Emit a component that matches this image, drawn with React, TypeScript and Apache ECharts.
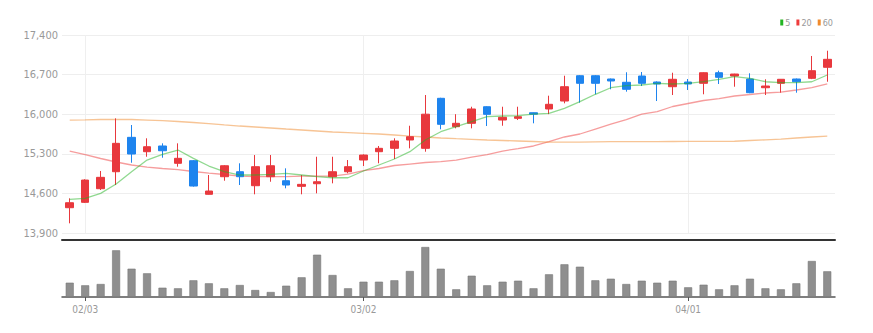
import React, { useEffect, useRef } from "react";
import * as echarts from "echarts";

const dates = [
  "01/28", "02/03", "02/04", "02/07", "02/08", "02/09", "02/10", "02/11", "02/14", "02/15",
  "02/16", "02/17", "02/18", "02/21", "02/22", "02/23", "02/24", "02/25", "02/28", "03/02",
  "03/03", "03/04", "03/07", "03/08", "03/10", "03/11", "03/14", "03/15", "03/16", "03/17",
  "03/18", "03/21", "03/22", "03/23", "03/24", "03/25", "03/28", "03/29", "03/30", "03/31",
  "04/01", "04/04", "04/05", "04/06", "04/07", "04/08", "04/11", "04/12", "04/13", "04/14",
];

const labelDates = ["02/03", "03/02", "04/01"];

// [open, close, low, high]
const ohlc = [
  [14347, 14435, 14071, 14513], [14442, 14836, 14430, 14850], [14683, 14884, 14660, 14996],
  [14983, 15485, 14748, 15927], [15591, 15296, 15142, 15809], [15337, 15425, 15248, 15574],
  [15438, 15354, 15231, 15485], [15132, 15220, 15072, 15485], [15178, 14730, 14720, 15190],
  [14584, 14642, 14580, 14925], [14895, 15089, 14824, 15100], [14983, 14895, 14748, 15132],
  [14736, 15072, 14584, 15278], [14895, 15089, 14806, 15278], [14824, 14748, 14690, 15043],
  [14725, 14760, 14584, 14925], [14771, 14806, 14601, 15248], [14895, 14983, 14778, 15248],
  [14983, 15072, 14955, 15190], [15190, 15278, 15084, 15290], [15337, 15397, 15132, 15438],
  [15397, 15526, 15208, 15574], [15544, 15602, 15397, 15796], [15397, 16000, 15337, 16339],
  [16281, 15821, 15733, 16290], [15779, 15839, 15750, 16000], [15839, 16092, 15750, 16132],
  [16132, 15998, 15791, 16140], [15897, 15945, 15796, 16132], [15927, 15956, 15897, 16132],
  [16026, 16000, 15839, 16030], [16092, 16175, 16000, 16327], [16233, 16486, 16192, 16680],
  [16680, 16546, 16203, 16690], [16680, 16546, 16352, 16690], [16622, 16587, 16440, 16630],
  [16564, 16440, 16398, 16741], [16675, 16546, 16498, 16746], [16569, 16534, 16233, 16580],
  [16486, 16617, 16339, 16733], [16569, 16534, 16428, 16622], [16546, 16733, 16352, 16740],
  [16733, 16652, 16534, 16769], [16675, 16710, 16486, 16715], [16622, 16380, 16370, 16723],
  [16468, 16498, 16339, 16617], [16546, 16617, 16380, 16620], [16622, 16574, 16380, 16630],
  [16634, 16769, 16620, 17029], [16829, 16970, 16574, 17122],
];

const ma5 = [
  14495, 14513, 14601, 14766, 14983, 15190, 15291, 15367, 15220, 15084,
  14983, 14925, 14925, 14937, 14955, 14925, 14895, 14877, 14877, 14996,
  15102, 15208, 15337, 15544, 15690, 15779, 15867, 15956, 15968, 15973,
  16000, 16016, 16104, 16221, 16352, 16468, 16504, 16516, 16546, 16534,
  16546, 16574, 16617, 16663, 16634, 16574, 16557, 16557, 16574, 16693,
];

const ma20 = [
  15349, 15287, 15217, 15155, 15102, 15066, 15040, 15022, 14987, 14960,
  14934, 14907, 14898, 14895, 14898, 14907, 14907, 14907, 14942, 15004,
  15040, 15093, 15119, 15146, 15163, 15190, 15243, 15287, 15349, 15393,
  15438, 15517, 15597, 15650, 15738, 15826, 15906, 16000, 16047, 16136,
  16189, 16242, 16277, 16322, 16348, 16375, 16392, 16428, 16468, 16534,
];

const ma60 = [
  15897, 15901, 15906, 15910, 15906, 15897, 15888, 15871, 15853, 15835,
  15812, 15791, 15774, 15756, 15738, 15721, 15703, 15685, 15673, 15662,
  15650, 15632, 15614, 15597, 15579, 15567, 15556, 15544, 15535, 15526,
  15517, 15508, 15508, 15508, 15512, 15514, 15514, 15514, 15516, 15517,
  15518, 15519, 15520, 15522, 15535, 15547, 15561, 15579, 15597, 15614,
];

const volumes = [
  143000, 117000, 130000, 467000, 283000, 237000, 93000, 87000, 167000, 137000,
  87000, 120000, 70000, 50000, 113000, 197000, 423000, 220000, 87000, 153000,
  153000, 167000, 260000, 500000, 283000, 77000, 213000, 117000, 153000, 163000,
  87000, 227000, 327000, 303000, 167000, 183000, 130000, 163000, 143000, 163000,
  97000, 123000, 77000, 117000, 183000, 87000, 77000, 137000, 360000, 257000,
];

const yTicks = { min: 13900, max: 17400, step: 700 };

const FONT = "'Liberation Sans Narrow', 'DejaVu Sans Condensed', sans-serif";

export default function App() {
  const ref = useRef<HTMLDivElement>(null);

  useEffect(() => {
    if (!ref.current) return;
    const chart = echarts.init(ref.current, undefined, { renderer: "svg" });
    const showIdx = (idx: number) => labelDates.includes(dates[idx]);

    const option: any = {
      animation: false,
      backgroundColor: "#ffffff",
      legend: {
        right: 35,
        top: 13,
        icon: "rect",
        itemWidth: 3,
        itemHeight: 6,
        itemGap: 6,
        textStyle: { color: "#999", fontSize: 9, fontFamily: FONT, padding: [0, 0, 0, -3] },
        data: ["5", "20", "60"],
      },
      grid: [
        { left: 62, right: 38, top: 35, height: 198 },
        { left: 62, right: 38, top: 245, bottom: 36 },
      ],
      xAxis: [
        {
          type: "category",
          gridIndex: 0,
          data: dates,
          boundaryGap: true,
          offset: 7,
          axisLine: { lineStyle: { color: "#333", width: 2 } },
          axisTick: { show: false },
          axisLabel: { show: false },
          splitLine: {
            show: true,
            alignWithLabel: true,
            interval: (idx: number) => showIdx(idx),
            lineStyle: { color: "#efefef", width: 1 },
          },
        },
        {
          type: "category",
          gridIndex: 1,
          data: dates,
          boundaryGap: true,
          axisLine: { lineStyle: { color: "#555", width: 1.5 } },
          axisTick: {
            show: true,
            alignWithLabel: true,
            length: 4,
            interval: (idx: number) => showIdx(idx),
            lineStyle: { color: "#555" },
          },
          axisLabel: {
            interval: (idx: number) => showIdx(idx),
            color: "#999",
            fontSize: 10,
            fontFamily: FONT,
            margin: 7,
          },
          splitLine: { show: false },
        },
      ],
      yAxis: [
        {
          type: "value",
          gridIndex: 0,
          min: yTicks.min,
          max: yTicks.max,
          interval: yTicks.step,
          axisLine: { show: false },
          axisTick: { show: false },
          axisLabel: {
            color: "#999",
            fontSize: 11,
            fontFamily: FONT,
            margin: 4,
            formatter: (v: number) => v.toLocaleString("en-US"),
          },
          splitLine: { lineStyle: { color: "#eeeeee", width: 1 } },
        },
        {
          type: "value",
          gridIndex: 1,
          min: 0,
          max: 520000,
          show: false,
          splitLine: { show: false },
        },
      ],
      series: [
        {
          type: "candlestick",
          name: "price",
          xAxisIndex: 0,
          yAxisIndex: 0,
          data: ohlc,
          barWidth: 8,
          itemStyle: {
            color: "#e8383d",
            color0: "#1e84ee",
            borderColor: "#e8383d",
            borderColor0: "#1e84ee",
            borderWidth: 1,
          },
          z: 3,
        },
        {
          type: "line",
          name: "5",
          xAxisIndex: 0,
          yAxisIndex: 0,
          data: ma5,
          showSymbol: false,
          color: "#22b422",
          lineStyle: { color: "#22b422", width: 1.3, opacity: 0.5 },
          z: 4,
        },
        {
          type: "line",
          name: "20",
          xAxisIndex: 0,
          yAxisIndex: 0,
          data: ma20,
          showSymbol: false,
          color: "#ee3b3b",
          lineStyle: { color: "#ee3b3b", width: 1.3, opacity: 0.5 },
          z: 2,
        },
        {
          type: "line",
          name: "60",
          xAxisIndex: 0,
          yAxisIndex: 0,
          data: ma60,
          showSymbol: false,
          color: "#f08a2c",
          lineStyle: { color: "#f08a2c", width: 1.3, opacity: 0.5 },
          z: 2,
        },
        {
          type: "bar",
          name: "volume",
          xAxisIndex: 1,
          yAxisIndex: 1,
          data: volumes,
          barWidth: 8,
          itemStyle: { color: "#8f8f8f", borderColor: "#777", borderWidth: 0.6 },
        },
      ],
    };

    chart.setOption(option);
    return () => chart.dispose();
  }, []);

  return (
    <div
      ref={ref}
      style={{ position: "absolute", left: 0, top: 0, width: 873, height: 333 }}
    />
  );
}
